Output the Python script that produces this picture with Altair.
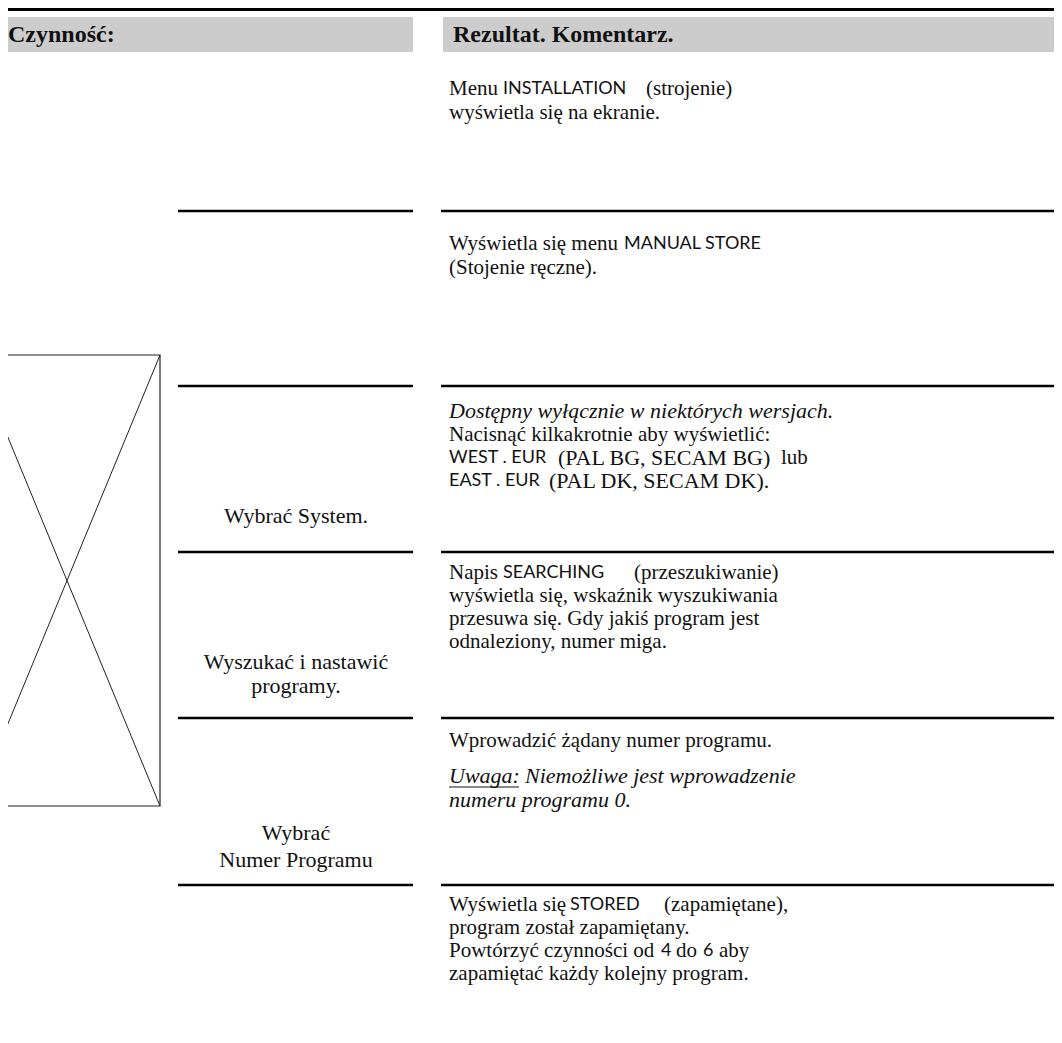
import altair as alt
import pandas as pd

# ---------------- content ----------------
header_labels = ["Czynność:", "Rezultat. Komentarz."]

# right column, serif regular segments
serif_text = [
    "Menu", "(strojenie)", "wyświetla się na ekranie.",
    "Wyświetla się menu", "(Stojenie ręczne).",
    "Nacisnąć kilkakrotnie aby wyświetlić:",
    "lub",
    "Napis", "(przeszukiwanie)", "wyświetla się, wskaźnik wyszukiwania",
    "przesuwa się. Gdy jakiś program jest", "odnaleziony, numer miga.",
    "Wprowadzić żądany numer programu.",
    "Wyświetla się", "(zapamiętane),", "program został zapamiętany.",
    "Powtórzyć czynności od", "do", "aby", "zapamiętać każdy kolejny program.",
]
serif_x = [449, 646, 449, 449, 449, 449, 781, 449, 634, 449, 449, 449,
           449, 449, 664, 449, 449, 676, 719, 449]
serif_y = [89, 89, 113, 244, 268, 435, 458, 573, 573, 596, 619, 642,
           741, 905, 905, 928, 951, 951, 951, 974]

# larger serif system names
pal_text = ["(PAL BG, SECAM BG)", "(PAL DK, SECAM DK)."]
pal_x = [558, 549]
pal_y = [458, 481]

# sans (display) segments
sans_text = ["INSTALLATION", "MANUAL STORE", "WEST . EUR", "EAST . EUR",
             "SEARCHING", "STORED", "4", "6"]
sans_x = [503, 624, 449, 449, 503, 570, 661, 703]
sans_y = [89, 244, 458, 481, 573, 905, 951, 951]

# italic segments
ital_text = ["Dostępny wyłącznie w niektórych wersjach.", "Uwaga:",
             "Niemożliwe jest wprowadzenie", "numeru programu 0."]
ital_x = [449, 449, 525, 449]
ital_y = [411, 776, 776, 800]

# left column (centred) labels
left_text = ["Wybrać System.", "Wyszukać i nastawić", "programy.", "Wybrać", "Numer Programu"]
left_y = [516, 662, 686, 833, 860]
left_cx = 296

# dividers
rule_y = [211, 386, 552, 718, 885]
left_rule = (178, 413)
right_rule = (441, 1070)

# picture placeholder
img_box = dict(x=-26, x2=160, y=355, y2=806)

# ---------------- layout ----------------
W, H = 1046, 1020
xs = alt.Scale(domain=[8, 8 + W], nice=False, zero=False)
ys = alt.Scale(domain=[8, 8 + H], nice=False, zero=False, reverse=True)
X = lambda f: alt.X(f, type="quantitative", scale=xs, axis=None)
Y = lambda f: alt.Y(f, type="quantitative", scale=ys, axis=None)

serif = "Liberation Serif"
sans = "Lato"
ink = "#111111"

hdr = pd.DataFrame({"x": [-10, 443], "x2": [413, 1070], "y": [17, 17], "y2": [52, 52],
                    "tx": [8, 453], "ty": [35, 35], "label": header_labels})
header_boxes = alt.Chart(hdr).mark_rect(color="#cccccc").encode(
    x=X("x"), x2="x2", y=Y("y"), y2="y2")
header_text = alt.Chart(hdr).mark_text(
    align="left", baseline="middle", font=serif, fontSize=24, fontWeight="bold", color=ink
).encode(x=X("tx"), y=Y("ty"), text="label:N")

top = pd.DataFrame({"x": [-10], "x2": [1070], "y": [9.5]})
top_rule = alt.Chart(top).mark_rule(color="#000", strokeWidth=3).encode(
    x=X("x"), x2="x2", y=Y("y"))

rows = []
for yv in rule_y:
    rows.append({"x": left_rule[0], "x2": left_rule[1], "y": yv})
    rows.append({"x": right_rule[0], "x2": right_rule[1], "y": yv})
rules = alt.Chart(pd.DataFrame(rows)).mark_rule(color="#000", strokeWidth=2.5).encode(
    x=X("x"), x2="x2", y=Y("y"))

img = pd.DataFrame([img_box])
img_rect = alt.Chart(img).mark_rect(fill="white", stroke="#222", strokeWidth=1.2).encode(
    x=X("x"), x2="x2", y=Y("y"), y2="y2")
diag = pd.DataFrame({
    "x": [img_box["x"], img_box["x2"]], "x2": [img_box["x2"], img_box["x"]],
    "y": [img_box["y"], img_box["y"]], "y2": [img_box["y2"], img_box["y2"]]})
diags = alt.Chart(diag).mark_rule(color="#222", strokeWidth=1).encode(
    x=X("x"), x2="x2", y=Y("y"), y2="y2")

sdf = pd.DataFrame({"x": serif_x, "y": serif_y, "t": serif_text})
serif_layer = alt.Chart(sdf).mark_text(
    align="left", baseline="middle", font=serif, fontSize=21, color=ink
).encode(x=X("x"), y=Y("y"), text="t:N")

pdf = pd.DataFrame({"x": pal_x, "y": pal_y, "t": pal_text})
pal_layer = alt.Chart(pdf).mark_text(
    align="left", baseline="middle", font=serif, fontSize=22, color=ink
).encode(x=X("x"), y=Y("y"), text="t:N")

adf = pd.DataFrame({"x": sans_x, "y": sans_y, "t": sans_text})
sans_layer = alt.Chart(adf).mark_text(
    align="left", baseline="middle", font=sans, fontSize=18, color=ink
).encode(x=X("x"), y=Y("y"), text="t:N")

idf = pd.DataFrame({"x": ital_x, "y": ital_y, "t": ital_text})
ital_layer = alt.Chart(idf).mark_text(
    align="left", baseline="middle", font=serif, fontSize=22, fontStyle="italic", color=ink
).encode(x=X("x"), y=Y("y"), text="t:N")

und = pd.DataFrame({"x": [449], "x2": [519], "y": [787]})
underline = alt.Chart(und).mark_rule(color=ink, strokeWidth=1).encode(
    x=X("x"), x2="x2", y=Y("y"))

ldf = pd.DataFrame({"x": [left_cx] * len(left_text), "y": left_y, "t": left_text})
left_layer = alt.Chart(ldf).mark_text(
    align="center", baseline="middle", font=serif, fontSize=22, color=ink
).encode(x=X("x"), y=Y("y"), text="t:N")

chart = alt.layer(
    header_boxes, header_text, top_rule, rules, img_rect, diags,
    serif_layer, pal_layer, sans_layer, ital_layer, underline, left_layer
).properties(
    width=W, height=H, autosize=alt.AutoSizeParams(type="none"), padding=0
).configure_view(stroke=None)

chart.save("out.html", embed_options={"renderer": "svg", "actions": False})
